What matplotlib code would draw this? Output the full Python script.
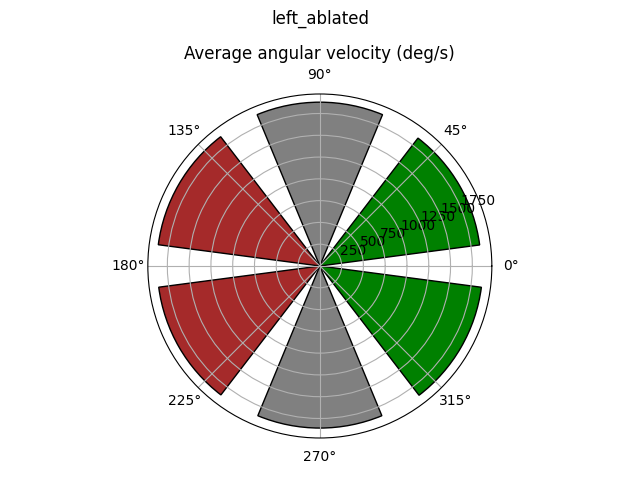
import numpy as np
import matplotlib.pyplot as plt

# bar directions (deg) and average angular velocity per direction
angles_deg = [30, 90, 150, 210, 270, 330]
velocities = [1850, 1880, 1870, 1865, 1860, 1870]
colors = ['green', 'gray', 'brown', 'brown', 'gray', 'green']

theta = np.deg2rad(angles_deg)

fig = plt.figure(figsize=(6.4, 4.8), dpi=100)
# polar axes sits lower / smaller than the default subplot box
ax = fig.add_axes([0.231, 0.0875, 0.5375, 0.7167], projection='polar')
ax.bar(theta, velocities, width=np.pi / 4, color=colors, edgecolor='black')
ax.set_title('Average angular velocity (deg/s)')
fig.suptitle('left_ablated')

plt.savefig('out.png')
